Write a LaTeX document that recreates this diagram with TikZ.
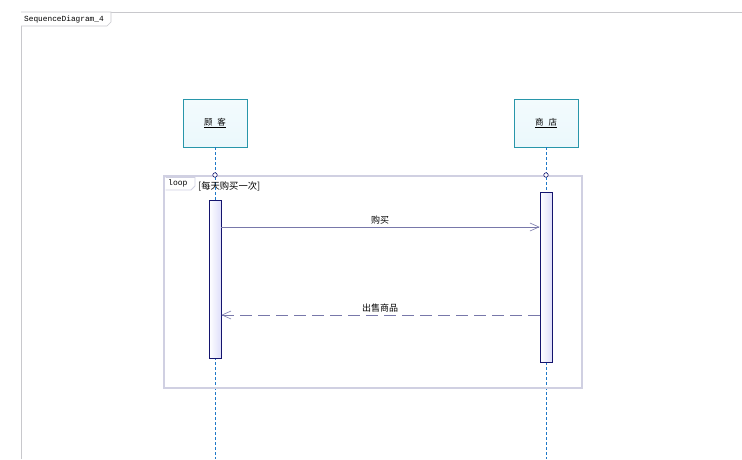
\documentclass[tikz,border=0pt]{standalone}
\usepackage{fontspec}
\setmainfont{Liberation Sans}
\setmonofont{Liberation Mono}
\newfontfamily\cjk{Noto Sans CJK SC}
\usetikzlibrary{arrows.meta}
\definecolor{framegray}{RGB}{200,200,204}
\definecolor{boxborder}{RGB}{40,150,170}
\definecolor{boxfill}{RGB}{235,248,252}
\definecolor{lifeblue}{RGB}{30,120,200}
\definecolor{loopgray}{RGB}{208,208,226}
\definecolor{actfill}{RGB}{222,222,250}
\definecolor{actborder}{RGB}{20,20,110}
\definecolor{msgcol}{RGB}{120,120,170}
\tikzset{
  objbox/.style={draw=boxborder, top color=boxfill!60!white, bottom color=boxfill, minimum width=64pt, minimum height=48pt, inner sep=0pt, font=\cjk\fontsize{8.5}{9}\selectfont},
  lifeline/.style={draw=lifeblue, dash pattern=on 3pt off 2pt, line width=0.6pt},
  actbox/.style={draw=actborder, left color=white, right color=actfill, line width=0.7pt},
  msg/.style={draw=msgcol, line width=0.6pt, -{Straight Barb[length=9pt,width=8pt]}},
  retmsg/.style={draw=msgcol, line width=0.6pt, dash pattern=on 12pt off 6pt, -{Straight Barb[length=9pt,width=8pt]}},
  msglabel/.style={font=\cjk\fontsize{9}{10}\selectfont, inner sep=1pt}
}
\begin{document}
\begin{tikzpicture}[x=1pt,y=-1pt]
\useasboundingbox (0,0) rectangle (742,459);
% outer frame
\draw[framegray, line width=0.8pt] (21,459) -- (21,12) -- (742,12);
\draw[framegray, line width=0.6pt, fill=white] (21,12) -- (111,12) -- (111,22) -- (107,26) -- (21,26);
\node[anchor=west, font=\ttfamily\fontsize{7.8}{9}\selectfont, inner sep=0pt] (title) at (24,19.5) {SequenceDiagram\_4};
% objects
\node[objbox] (cust) at (215,123) {\underline{顾\hspace{5pt}客}};
\node[objbox] (shop) at (546,123) {\underline{商\hspace{5pt}店}};
\coordinate (custend) at (215,459);
\coordinate (shopend) at (546,459);
\draw[lifeline] (cust.south) -- (custend);
\draw[lifeline] (shop.south) -- (shopend);
% loop frame
\draw[loopgray, line width=2.6pt] (164,176) rectangle (582,388);
\draw[loopgray, line width=0.8pt, fill=white] (165.5,177.5) -- (195,177.5) -- (195,186) -- (191,190) -- (165.5,190);
\node[anchor=west, font=\ttfamily\fontsize{8}{9}\selectfont, inner sep=0pt] (looplbl) at (168,183.5) {loop};
\node[anchor=west, font=\cjk\fontsize{9.3}{10}\selectfont, inner sep=0pt] (guard) at (198,186) {[每天购买一次]};
% small circles on lifelines
\node[circle, draw=actborder, fill=white, inner sep=0pt, minimum size=4.5pt, line width=0.6pt] (cc) at (215,175) {};
\node[circle, draw=actborder, fill=white, inner sep=0pt, minimum size=4.5pt, line width=0.6pt] (sc) at (546,175) {};
% activations
\node[actbox, minimum width=12pt, minimum height=158pt, inner sep=0pt] (custact) at (215,279) {};
\node[actbox, minimum width=12pt, minimum height=170pt, inner sep=0pt] (shopact) at (546,277) {};
% messages
\coordinate (m1s) at (custact.east |- 0,227);
\coordinate (m1e) at (shopact.west |- 0,227);
\draw[msg] (m1s) -- (m1e);
\node[msglabel] (l1) at (380,220) {购买};
\coordinate (m2s) at (shopact.west |- 0,315);
\coordinate (m2e) at (custact.east |- 0,315);
\draw[retmsg] (m2s) -- (m2e);
\node[msglabel, fill=white] (l2) at (380,308) {出售商品};
\end{tikzpicture}
\end{document}
